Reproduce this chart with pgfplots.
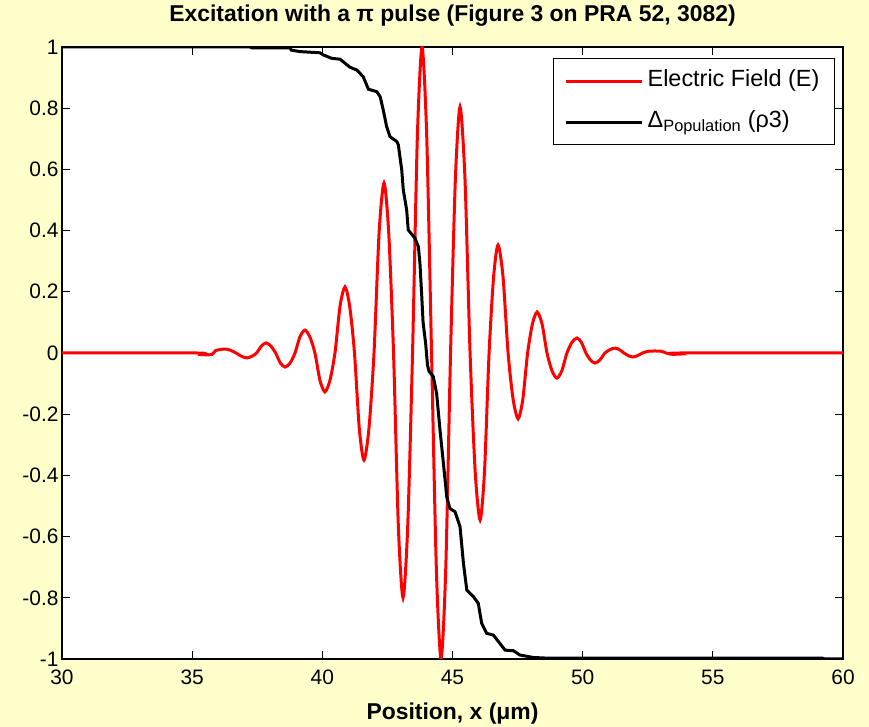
\documentclass[border=0pt]{standalone}
\usepackage{fontspec}
\setmainfont{Liberation Sans}
\usepackage{pgfplots}
\pgfplotsset{compat=1.18}
\usetikzlibrary{backgrounds}
\definecolor{bgyellow}{RGB}{255,255,204}
\begin{document}
\begin{tikzpicture}
\begin{axis}[
  scale only axis,
  width=781bp, height=612bp,
  xmin=30, xmax=60, ymin=-1, ymax=1,
  axis background/.style={fill=white},
  axis line style={line width=1.8bp, black},
  tick align=inside,
  major tick length=8bp,
  tick style={line width=1bp, black},
  xtick={30,35,40,45,50,55,60},
  xticklabels={30,35,40,45,50,55,60},
  ytick={-1,-0.8,-0.6,-0.4,-0.2,0,0.2,0.4,0.6,0.8,1},
  yticklabels={-1,-0.8,-0.6,-0.4,-0.2,0,0.2,0.4,0.6,0.8,1},
  ticklabel style={font=\fontsize{21}{25}\selectfont},
  xticklabel style={anchor=base, yshift=-25bp},
  title={Excitation with a π pulse (Figure 3 on PRA 52, 3082)},
  title style={font=\bfseries\fontsize{23}{27}\selectfont, anchor=base, at={(0.5,1)}, yshift=20bp},
  xlabel={Position, x (μm)},
  xlabel style={font=\bfseries\fontsize{23}{27}\selectfont, anchor=base, at={(0.5,0)}, yshift=-60bp},
  legend style={at={(1,1)}, anchor=north east, xshift=-8bp, yshift=-11bp,
    draw=black, line width=1.2bp, fill=white,
    font=\fontsize{23.5}{28}\selectfont, inner xsep=11bp, inner ysep=2bp,
    nodes={inner xsep=4bp, inner ysep=9bp, text height=17bp, text depth=6bp}},
  legend cell align=left,
  legend image code/.code={\path (0bp,0bp) -- (76bp,0bp); \draw[#1] (0bp,0bp) -- (70bp,0bp);},
]
\coordinate (SW) at (rel axis cs:0,0);
\addplot[red, line width=3bp, smooth, tension=0.45] coordinates {
(30,0) (35.19,0) (35.3,-0.005) (35.76,-0.005) (35.9,0.008) (36.26,0.013)
(36.47,0.009) (36.685,0) (36.90,-0.011) (37.11,-0.016)
(37.29,-0.011) (37.475,0) (37.66,0.023) (37.84,0.033)
(38.02,0.023) (38.205,0) (38.39,-0.033) (38.57,-0.046)
(38.76,-0.033) (38.95,0) (39.14,0.053) (39.33,0.075)
(39.52,0.053) (39.715,0) (39.91,-0.090) (40.10,-0.127)
(40.29,-0.090) (40.485,0) (40.68,0.153) (40.87,0.216)
(41.05,0.153) (41.235,0) (41.42,-0.247) (41.60,-0.35)
(41.79,-0.247) (41.985,0) (42.18,0.393) (42.37,0.556)
(42.55,0.393) (42.735,0) (42.92,-0.566) (43.10,-0.80)
(43.28,-0.566) (43.465,0) (43.65,0.707) (43.83,1.0)
(44.01,0.707) (44.195,0) (44.38,-0.707) (44.56,-1.0)
(44.74,-0.707) (44.925,0) (45.11,0.568) (45.29,0.804)
(45.48,0.568) (45.675,0) (45.87,-0.386) (46.06,-0.546)
(46.23,-0.386) (46.405,0) (46.58,0.25) (46.75,0.353)
(46.94,0.25) (47.135,0) (47.33,-0.152) (47.52,-0.215)
(47.70,-0.152) (47.885,0) (48.07,0.095) (48.25,0.134)
(48.44,0.095) (48.63,0) (48.82,-0.058) (49.01,-0.082)
(49.20,-0.058) (49.395,0) (49.59,0.035) (49.78,0.049)
(49.95,0.035) (50.125,0) (50.30,-0.023) (50.47,-0.033)
(50.66,-0.023) (50.855,0) (51.05,0.011) (51.24,0.016)
(51.41,0.011) (51.585,0) (51.76,-0.009) (51.93,-0.013)
(52.1,-0.009) (52.3,0) (52.55,0.006) (53.0,0.006) (53.2,0) (53.4,-0.004) (53.6,-0.004) (53.74,0) (60,0)
};
\addlegendentry{Electric Field (E)}
\addplot[black, line width=3bp] coordinates {
(30,1) (37.22,1) (37.3,0.997) (38.76,0.997) (38.8,0.99) (39.14,0.985) (39.91,0.981) (40.04,0.974) (40.36,0.963) (40.68,0.960) (41.06,0.934) (41.32,0.925) (41.57,0.903) (41.77,0.862) (42.09,0.854) (42.22,0.838) (42.34,0.794) (42.47,0.740) (42.60,0.707) (42.86,0.691) (42.92,0.680) (43.05,0.598) (43.11,0.533) (43.24,0.467) (43.30,0.402) (43.56,0.375) (43.69,0.347) (43.75,0.293) (43.82,0.184) (43.87,0.10) (43.97,0.03) (44.04,-0.04) (44.1,-0.06) (44.26,-0.077) (44.39,-0.132) (44.52,-0.252) (44.65,-0.36) (44.78,-0.47) (44.90,-0.508) (45.10,-0.519) (45.29,-0.568) (45.42,-0.687) (45.55,-0.775) (45.80,-0.796) (45.99,-0.818) (46.12,-0.883) (46.31,-0.916) (46.57,-0.922) (46.82,-0.949) (47.02,-0.971) (47.34,-0.973) (47.59,-0.987) (48.10,-0.995) (48.6,-0.997) (59.2,-0.997) (59.3,-1) (60,-1)
};
\addlegendentry{Δ\textsubscript{Population} (ρ3)}
\end{axis}
\begin{scope}[on background layer]
\fill[bgyellow] ([xshift=-62bp,yshift=-68bp]SW) rectangle ++(869bp,727bp);
\end{scope}
\pgfresetboundingbox
\path[use as bounding box] ([xshift=-62bp,yshift=-68bp]SW) rectangle ++(869bp,727bp);
\end{tikzpicture}
\end{document}
